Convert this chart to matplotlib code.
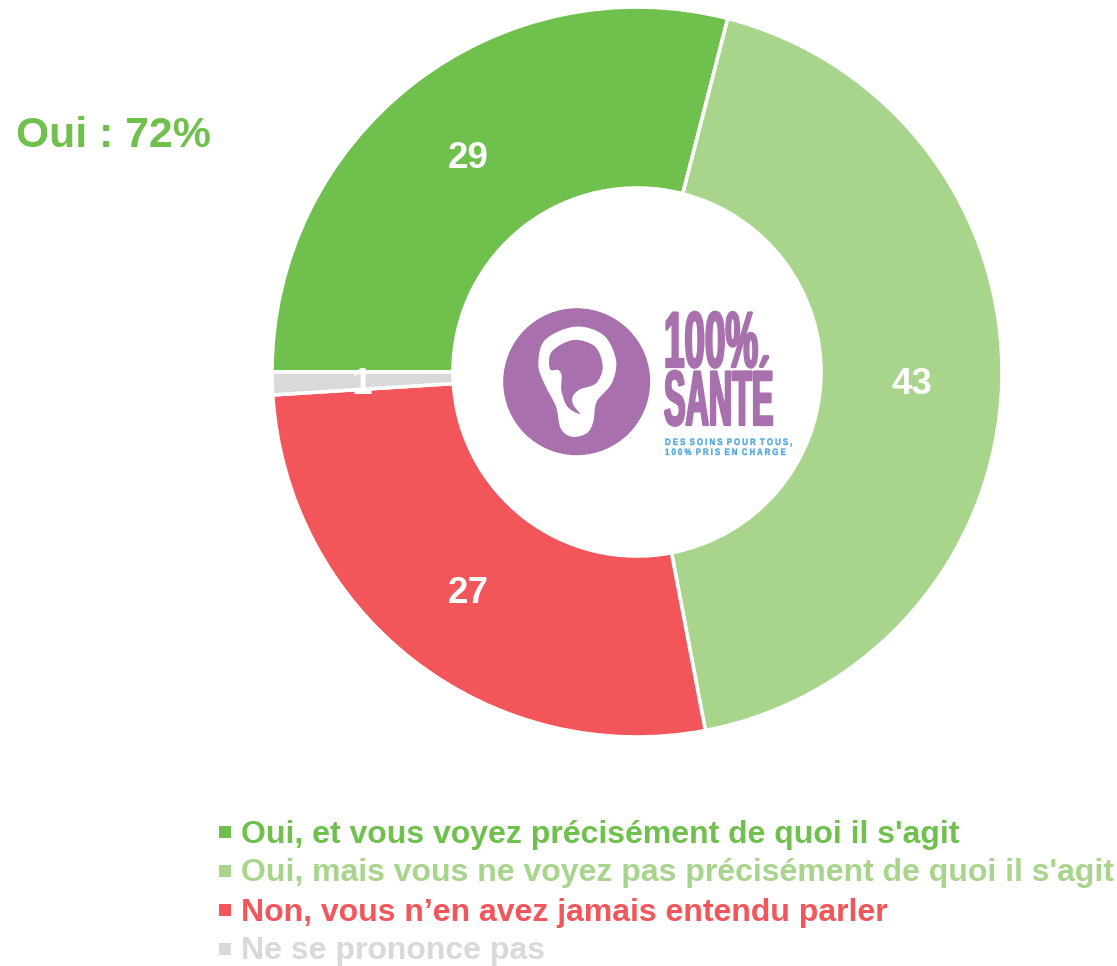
import numpy
import matplotlib
matplotlib.use("Agg")
import matplotlib.pyplot as plt
from matplotlib.patches import Circle, PathPatch, Rectangle
from matplotlib.patheffects import AbstractPathEffect
from matplotlib.path import Path
from matplotlib.transforms import Affine2D

plt.rcParams["font.family"] = ["Liberation Sans", "DejaVu Sans"]

WIDTH = 1117
HEIGHT = 966

values = [29, 43, 27, 1]
labels = [
    "Oui, et vous voyez précisément de quoi il s'agit",
    "Oui, mais vous ne voyez pas précisément de quoi il s'agit",
    "Non, vous n’en avez jamais entendu parler",
    "Ne se prononce pas",
]
colours = ["#70C04D", "#A9D48C", "#F2565A", "#D9D9D9"]
total_label = "Oui : 72%"

LOGO_PURPLE = "#A870AC"
LOGO_BLUE = "#4FA8DC"

# ear outline, in pixels of the zoomed logo (3x, origin at 490,290)
ear_outer = [(245, 440), (212, 415), (198, 350), (165, 285), (145, 225), (165, 150),
             (255, 110), (340, 135), (378, 210), (365, 280), (320, 335), (310, 395),
             (290, 430)]
ear_inner = [(180, 237), (185, 185), (250, 150), (315, 170), (338, 230), (318, 280),
             (270, 298), (248, 320), (250, 345), (270, 372), (232, 350), (214, 300),
             (215, 258), (205, 240)]


class Reshape(AbstractPathEffect):
    """Scale a text about its anchor point, with an optional outline; the logo font is condensed and heavy."""

    def __init__(self, x_pixels, y_pixels, x_scale, y_scale, stroke=0.0):
        super().__init__()
        self.x_pixels = x_pixels
        self.y_pixels = y_pixels
        self.x_scale = x_scale
        self.y_scale = y_scale
        self.stroke = stroke

    def draw_path(self, renderer, gc, tpath, affine, rgbFace=None):
        reshape = (
            Affine2D()
            .translate(-self.x_pixels, -self.y_pixels)
            .scale(self.x_scale, self.y_scale)
            .translate(self.x_pixels, self.y_pixels)
        )
        stroked = renderer.new_gc()
        stroked.copy_properties(gc)
        stroked.set_linewidth(self.stroke)
        stroked.set_foreground(rgbFace)
        renderer.draw_path(stroked, tpath, affine + reshape, rgbFace)
        stroked.restore()


def from_top(y):
    return HEIGHT - y


def smooth_loop(points):
    """Closed Catmull-Rom curve through the given zoom-space points, as a bezier path."""
    xy = numpy.array([(490 + x / 3, from_top(290 + y / 3)) for x, y in points])
    count = len(xy)
    vertices = [xy[0]]
    codes = [Path.MOVETO]
    for index in range(count):
        before = xy[(index - 1) % count]
        here = xy[index]
        after = xy[(index + 1) % count]
        later = xy[(index + 2) % count]
        vertices += [here + (after - before) / 6, after - (later - here) / 6, after]
        codes += [Path.CURVE4, Path.CURVE4, Path.CURVE4]
    return Path(vertices, codes)


fig = plt.figure(figsize=(WIDTH / 100, HEIGHT / 100), dpi=100)
ax = fig.add_axes([0, 0, 1, 1])

centre = (637, from_top(372))
outer_radius = 365
ring_width = 181

wedges, _ = ax.pie(
    values,
    colors=colours,
    startangle=180,
    counterclock=False,
    center=centre,
    radius=outer_radius,
    wedgeprops={"width": ring_width, "edgecolor": "white", "linewidth": 2.6},
)
ax.set_xlim(0, WIDTH)
ax.set_ylim(0, HEIGHT)
ax.set_aspect("equal")
ax.axis("off")

# value labels sit in the middle of each ring segment
label_radius = 275
for wedge, value in zip(wedges, values):
    middle = numpy.deg2rad((wedge.theta1 + wedge.theta2) / 2)
    ax.text(
        centre[0] + label_radius * numpy.cos(middle),
        centre[1] + label_radius * numpy.sin(middle),
        str(value),
        color="white",
        fontsize=26.5,
        fontweight="bold",
        ha="center",
        va="center_baseline",
        zorder=5,
    )

ax.text(16, from_top(136), total_label, color=colours[0], fontsize=30.8, fontweight="bold",
        ha="left", va="center")

# legend
for index, label in enumerate(labels):
    row_y = from_top(832 + 39 * index)
    ax.add_patch(Rectangle((219, row_y - 6), 12, 12, facecolor=colours[index], edgecolor="none"))
    ax.text(241, row_y - 2.5, label, color=colours[index], fontsize=23, fontweight="bold",
            ha="left", va="center")

# logo
ax.add_patch(Circle((576.7, from_top(381.7)), 73.5, facecolor=LOGO_PURPLE, edgecolor="none", zorder=3))
ax.add_patch(PathPatch(smooth_loop(ear_outer), facecolor="white", edgecolor="none", zorder=4))
ax.add_patch(PathPatch(smooth_loop(ear_inner), facecolor=LOGO_PURPLE, edgecolor="none", zorder=4))

ax.text(664, from_top(367), "100%", color=LOGO_PURPLE, fontsize=28.5, fontweight="bold",
        ha="left", va="baseline", zorder=4,
        path_effects=[Reshape(664, from_top(367), 0.93, 2, stroke=1.6)])
ax.text(664, from_top(425), "SANTÉ", color=LOGO_PURPLE, fontsize=28, fontweight="bold",
        ha="left", va="baseline", zorder=4,
        path_effects=[Reshape(664, from_top(425), 0.83, 2, stroke=1.6)])
ax.text(665, from_top(445), "D E S  S O I N S  P O U R  T O U S ,", color=LOGO_BLUE, fontsize=5.6,
        fontweight="bold", ha="left", va="baseline", zorder=4,
        path_effects=[Reshape(665, from_top(445), 1, 1.2, stroke=0.3)])
ax.text(665, from_top(455), "1 0 0 %  P R I S  E N  C H A R G E", color=LOGO_BLUE, fontsize=5.6,
        fontweight="bold", ha="left", va="baseline", zorder=4,
        path_effects=[Reshape(665, from_top(455), 1, 1.2, stroke=0.3)])

fig.savefig("out.png", dpi=100, facecolor="white")
